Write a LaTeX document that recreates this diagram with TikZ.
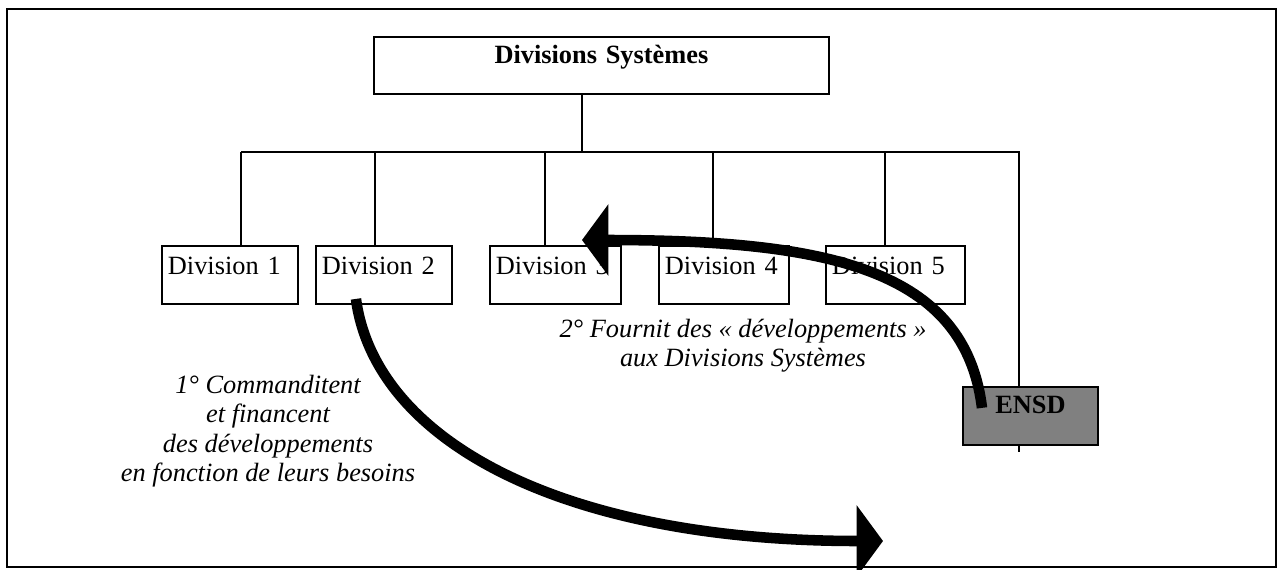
\documentclass[tikz,border=0pt]{standalone}
\usepackage{fontspec}
\setmainfont{Liberation Serif}
\usetikzlibrary{arrows.meta}

\tikzset{
  box/.style={draw, line width=1.1pt, anchor=north west, inner ysep=0pt},
  divbox/.style={box, align=left, inner xsep=0.12cm, text height=16pt, text depth=17pt,
    font=\fontsize{15}{17}\selectfont},
  note/.style={align=center, font=\fontsize{15}{16.7}\selectfont\itshape},
  bigarrow/.style={line width=6pt, -{Triangle[length=15pt,width=40pt]}},
}

\begin{document}
\begin{tikzpicture}[x=0.02cm, y=-0.02cm]
  \useasboundingbox (0,0) rectangle (1282,569);
  % ---- Frame ----
  \draw[line width=1pt] (7,9) rectangle (1276,567);

  % ---- Head box ----
  \node[box, inner xsep=0pt, text width=9.1cm, align=center, text height=15.3pt, text depth=17pt,
    font=\fontsize{15}{17}\selectfont\bfseries] (sys) at (373,36) {Divisions Systèmes};

  % ---- Divisions ----
  \node[divbox, text width=2.48cm] (d1) at (161,245) {Division 1};
  \node[divbox, text width=2.48cm] (d2) at (315,245) {Division 2};
  \node[divbox, text width=2.38cm] (d3) at (489,245) {Division 3};
  \node[divbox, text width=2.36cm] (d4) at (658,245) {Division 4};
  \node[divbox, text width=2.54cm] (d5) at (825,245) {Division 5};

  % ---- Bus lines ----
  \coordinate (b0) at (582,152);
  \coordinate (b1) at (241,152);
  \coordinate (b2) at (375,152);
  \coordinate (b3) at (545,152);
  \coordinate (b4) at (713,152);
  \coordinate (b5) at (885,152);
  \coordinate (b6) at (1019,152);
  \coordinate (tail) at (1019,452);
  \draw[line width=1pt] (b0 |- sys.south) -- (b0);
  \draw[line width=1pt] (b1) -- (b6) -- (tail);
  \draw[line width=1pt] (b1) -- (b1 |- d1.north);
  \draw[line width=1pt] (b2) -- (b2 |- d2.north);
  \draw[line width=1pt] (b3) -- (b3 |- d3.north);
  \draw[line width=1pt] (b4) -- (b4 |- d4.north);
  \draw[line width=1pt] (b5) -- (b5 |- d5.north);

  % ---- ENSD ----
  \node[box, fill=black!50, inner xsep=0pt, minimum width=2.7cm, text height=15.3pt, text depth=17.6pt,
    font=\fontsize{15}{17}\selectfont\bfseries] (ensd) at (962,386) {ENSD};

  % ---- Texts ----
  \node[note] (n2) at (743,346) {2° Fournit des « développements »\\aux Divisions Systèmes};
  \node[note] (n1) at (268,431) {1° Commanditent\\et financent\\des développements\\en fonction de leurs besoins};

  % ---- Arrows ----
  \coordinate (tip1) at (883,541);
  \coordinate (tip2) at (582,240);
  \draw[bigarrow] ([shift={(-28,-6)}]d2.south) .. controls (375,440) and (560,541) .. (tip1);
  \draw[bigarrow] ([shift={(20,-8)}]ensd.west) .. controls (965,270) and (830,240) .. (tip2);
\end{tikzpicture}
\end{document}
